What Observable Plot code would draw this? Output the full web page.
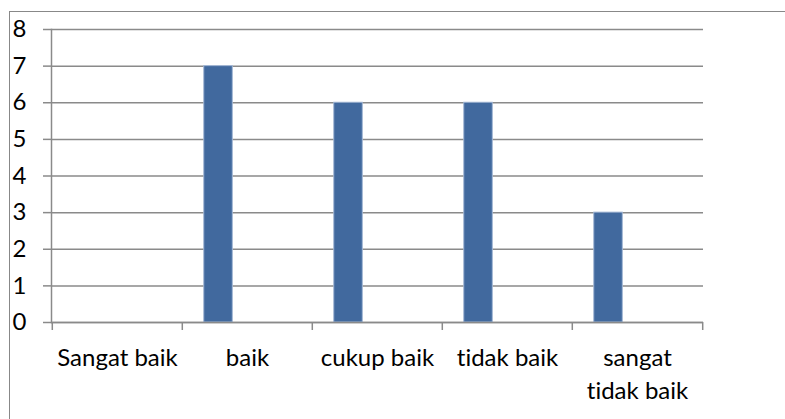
<!DOCTYPE html>
<html><head><meta charset="utf-8">
<script src="https://cdn.jsdelivr.net/npm/d3@7"></script>
<script src="https://cdn.jsdelivr.net/npm/@observablehq/plot@0.6"></script>
<style>
body{margin:0;background:#fff;}
#wrap{position:relative;width:785px;height:419px;overflow:hidden;}
#border{position:absolute;left:9px;top:11px;width:900px;height:600px;border:1px solid #888;box-sizing:border-box;pointer-events:none;}
#wrap svg{position:absolute;left:0;top:0;font-variant-ligatures:none;}
#wrap svg text{font-variant-ligatures:none;}
</style></head><body><div id="wrap"><div id="border"></div></div>
<script>
const categories = ["Sangat baik", "baik", "cukup baik", "tidak baik", "sangat tidak baik"];
const tickLabels = ["Sangat baik", "baik", "cukup baik", "tidak baik", "sangat\ntidak baik"];
const values = [0, 7, 6, 6, 3];
const yTicks = [0, 1, 2, 3, 4, 5, 6, 7, 8];

const W = 785, H = 419, mL = 51, mR = 82, mT = 29, mB = 97;
const bw = (W - mL - mR) / categories.length;
const barW = bw / 4.5; // clustered layout, gap width 150%
const data = categories.map((c, i) => ({category: c, value: values[i]}));
const gray = "#8a8a8a";

const chart = Plot.plot({
  width: W, height: H,
  marginLeft: mL, marginRight: mR, marginTop: mT, marginBottom: mB,
  style: {fontFamily: "Lato", fontSize: "24px", color: "#000", background: "transparent", overflow: "visible"},
  x: {domain: categories, padding: 0, label: null},
  y: {domain: [0, 8], label: null},
  marks: [
    Plot.gridY(yTicks, {stroke: gray, strokeOpacity: 1, strokeWidth: 1.5}),
    Plot.axisY(yTicks, {tickSize: 8, tickPadding: 17, stroke: gray, strokeWidth: 1.5, fontSize: 24, fill: "#000", label: null}),
    Plot.frame({anchor: "left", stroke: gray, strokeWidth: 1.5}),
    Plot.barY(data.filter(d => d.value > 0), {
      x: "category", y: "value", fill: "#41699e",
      stroke: "#a3b8d6", strokeWidth: 1,
      insetLeft: 0.75 * barW, insetRight: bw - 1.75 * barW
    }),
    Plot.ruleY([0], {stroke: gray, strokeWidth: 1.5}),
    Plot.axisX({tickSize: 8, tickFormat: () => "", dx: -bw / 2, stroke: gray, strokeWidth: 1.5, label: null}),
    Plot.axisX([categories[categories.length - 1]], {tickSize: 8, tickFormat: () => "", dx: bw / 2, stroke: gray, strokeWidth: 1.5, label: null}),
    Plot.axisX({tickSize: 0, tickPadding: 20, fontSize: 24, fill: "#000", lineHeight: 1.38,
      tickFormat: d => tickLabels[categories.indexOf(d)], label: null})
  ]
});
document.getElementById("wrap").appendChild(chart);
</script>
</body></html>
